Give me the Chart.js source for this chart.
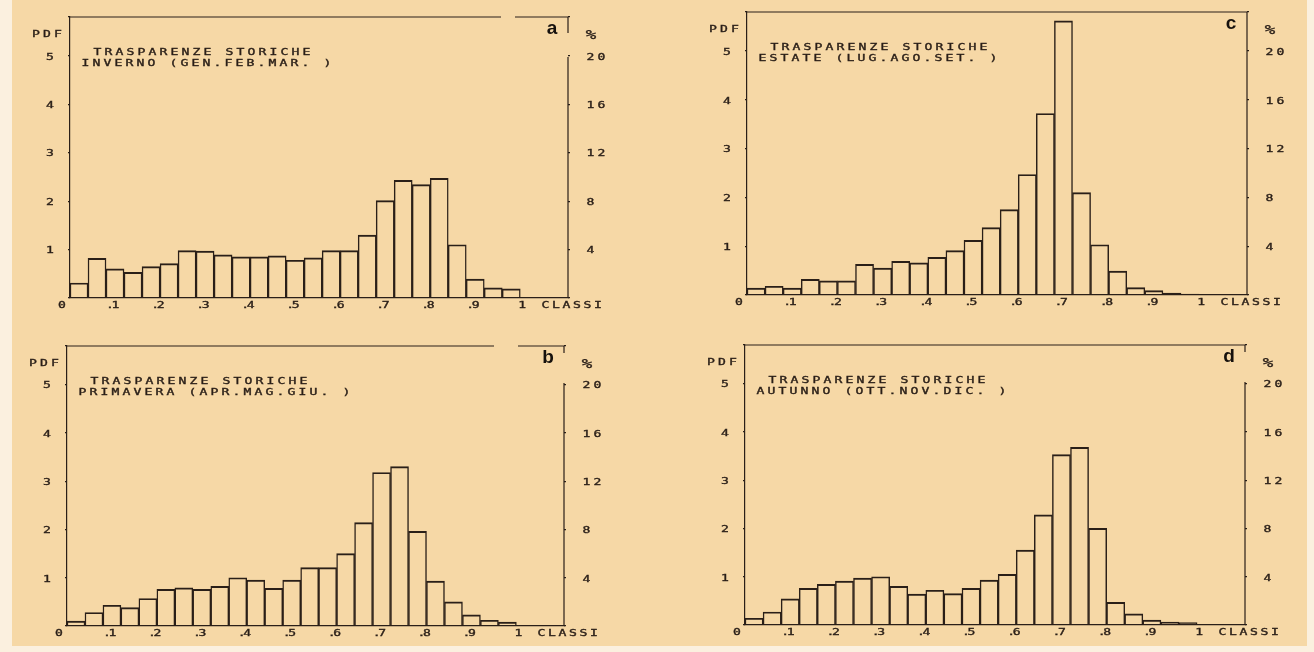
<!DOCTYPE html>
<html>
<head>
<meta charset="utf-8">
<title>Trasparenze storiche</title>
<script src="https://cdn.jsdelivr.net/npm/chart.js@4.4.1/dist/chart.umd.min.js"></script>
<style>
  html, body { margin: 0; padding: 0; }
  body { width: 1314px; height: 652px; position: relative; overflow: hidden; background: #fbf0df; }
  #paper { position: absolute; left: 12px; top: 0; width: 1295px; height: 646px; background: #f6d8a6; }
  .panel { position: absolute; }
  .panel canvas { display: block; }
</style>
</head>
<body>
<div id="paper"></div>
<div class="panel" id="panel-a"><canvas id="chart-a"></canvas></div>
<div class="panel" id="panel-b"><canvas id="chart-b"></canvas></div>
<div class="panel" id="panel-c"><canvas id="chart-c"></canvas></div>
<div class="panel" id="panel-d"><canvas id="chart-d"></canvas></div>
<script>
// Lower edges of the 25 transparency classes (width 0.04)
const classEdges = [0.00, 0.04, 0.08, 0.12, 0.16, 0.20, 0.24, 0.28, 0.32, 0.36,
                    0.40, 0.44, 0.48, 0.52, 0.56, 0.60, 0.64, 0.68, 0.72, 0.76,
                    0.80, 0.84, 0.88, 0.92, 0.96];
const classWidth = 0.04;

// Probability density per class, one array per season
const pdfInverno   = [0.31, 0.82, 0.60, 0.53, 0.65, 0.71, 0.98, 0.97, 0.89, 0.85,
                      0.85, 0.87, 0.78, 0.83, 0.98, 0.98, 1.30, 2.01, 2.43, 2.34,
                      2.47, 1.10, 0.39, 0.21, 0.19];
const pdfPrimavera = [0.10, 0.28, 0.43, 0.38, 0.57, 0.76, 0.79, 0.76, 0.82, 1.00,
                      0.95, 0.78, 0.95, 1.21, 1.21, 1.50, 2.14, 3.18, 3.30, 1.96,
                      0.93, 0.50, 0.23, 0.12, 0.08];
const pdfEstate    = [0.14, 0.18, 0.14, 0.32, 0.29, 0.29, 0.63, 0.55, 0.69, 0.66,
                      0.77, 0.91, 1.12, 1.38, 1.75, 2.47, 3.72, 5.62, 2.10, 1.03,
                      0.49, 0.15, 0.09, 0.04, 0.02];
const pdfAutunno   = [0.14, 0.27, 0.54, 0.76, 0.84, 0.91, 0.97, 1.00, 0.80, 0.64,
                      0.72, 0.65, 0.76, 0.93, 1.05, 1.55, 2.28, 3.53, 3.68, 2.00,
                      0.47, 0.23, 0.10, 0.06, 0.05];

// Axis ticks and labels
const pdfTicks = [1, 2, 3, 4, 5];
const percentTicks = [4, 8, 12, 16, 20];
const classTicks = [0, 0.1, 0.2, 0.3, 0.4, 0.5, 0.6, 0.7, 0.8, 0.9, 1];
const classTickLabels = ['0', '.1', '.2', '.3', '.4', '.5', '.6', '.7', '.8', '.9', '1'];
const titleLine = 'TRASPARENZE STORICHE';
const seasonLines = ['INVERNO (GEN.FEB.MAR. )', 'PRIMAVERA (APR.MAG.GIU. )',
                     'ESTATE (LUG.AGO.SET. )', 'AUTUNNO (OTT.NOV.DIC. )'];
const panelLetters = ['a', 'b', 'c', 'd'];
const leftAxisName = 'PDF';
const rightAxisName = '%';
const classAxisName = 'CLASSI';

const INK = '#2a1f18';
const PDF_MAX = 5.8;
const CLASS_MAX = 1.106;

// Plotter-style lettering: fixed pitch, wide glyphs, slightly heavy pen
function plotText(ctx, str, x, y, align, pitch, size) {
  const fs = size || 9;
  const gw = 7;
  const n = str.length;
  let c0;
  if (align === 'left') c0 = x + gw / 2;
  else if (align === 'right') c0 = x - gw / 2 - (n - 1) * pitch;
  else c0 = x - (n - 1) * pitch / 2;
  ctx.save();
  ctx.font = fs + 'px "DejaVu Sans Mono"';
  ctx.textAlign = 'center';
  ctx.textBaseline = 'middle';
  ctx.fillStyle = INK;
  ctx.strokeStyle = INK;
  ctx.lineWidth = 0.35;
  for (let i = 0; i < n; i++) {
    const ch = str[i];
    if (ch === ' ') continue;
    ctx.save();
    ctx.translate(c0 + i * pitch, y);
    ctx.scale(1.45, 1);
    ctx.fillText(ch, 0, 0);
    ctx.strokeText(ch, 0, 0);
    ctx.restore();
  }
  ctx.restore();
}

const plotterFrame = {
  id: 'plotterFrame',
  afterDraw(chart, args, o) {
    const ctx = chart.ctx;
    const { left: L, top: T, right: R, bottom: B } = chart.chartArea;
    const xs = chart.scales.x, ys = chart.scales.y, ys2 = chart.scales.y2;

    // top and right edges of the frame, with the pen gaps near the panel letter
    ctx.save();
    ctx.strokeStyle = INK;
    ctx.lineWidth = 1.2;
    ctx.beginPath();
    if (o.topGap) {
      ctx.moveTo(L, T); ctx.lineTo(R - o.topGap[0], T);
      ctx.moveTo(R - o.topGap[1], T); ctx.lineTo(R, T);
    } else {
      ctx.moveTo(L, T); ctx.lineTo(R, T);
    }
    if (o.rightGap) {
      ctx.moveTo(R, T); ctx.lineTo(R, T + o.rightGap[0]);
      ctx.moveTo(R, T + o.rightGap[1]); ctx.lineTo(R, B);
    } else {
      ctx.moveTo(R, T); ctx.lineTo(R, B);
    }
    ctx.stroke();
    ctx.restore();

    // titles
    plotText(ctx, titleLine, L + 24, T + 35.5, 'left', 11);
    plotText(ctx, o.season, L + 12, T + 47, 'left', 11);

    // axis names
    plotText(ctx, leftAxisName, L - 23, T + 18, 'center', 11);
    plotText(ctx, rightAxisName, R + 23, T + 19, 'center', 11, 12);
    plotText(ctx, classAxisName, R - 26, B + 8, 'left', 10.5);

    // left PDF labels
    pdfTicks.forEach(v => {
      plotText(ctx, String(v), L - 20, ys.getPixelForValue(v) + 1.5, 'center', 11);
    });
    // right percentage labels
    percentTicks.forEach(v => {
      plotText(ctx, String(v), R + 19, ys2.getPixelForValue(v) + 1.5, 'left', 11);
    });
    // class labels
    classTicks.forEach((v, i) => {
      const px = xs.getPixelForValue(v);
      const lab = classTickLabels[i];
      if (lab.startsWith('.')) {
        plotText(ctx, '.', px - 5, B + 8, 'center', 6);
        plotText(ctx, lab.slice(1), px + 0.5, B + 8, 'center', 6);
      } else if (lab === '0') {
        plotText(ctx, lab, px - 8, B + 8, 'center', 6);
      } else {
        plotText(ctx, lab, px + 2, B + 8, 'center', 6);
      }
    });

    // panel letter
    ctx.save();
    ctx.font = 'bold 19px "Liberation Sans", Arial, sans-serif';
    ctx.fillStyle = '#16110d';
    ctx.textAlign = 'center';
    ctx.textBaseline = 'alphabetic';
    ctx.fillText(o.letter, R - 16, T + 16.5);
    ctx.restore();
  }
};

const panels = [
  { id: 'a', box: { l: 70, t: 17, w: 498, h: 281 }, values: pdfInverno, season: seasonLines[0], letter: panelLetters[0], topGap: [67, 53], rightGap: [16, 40] },
  { id: 'b', box: { l: 67, t: 346, w: 497, h: 280 }, values: pdfPrimavera, season: seasonLines[1], letter: panelLetters[1], topGap: [70, 46], rightGap: [7, 37] },
  { id: 'c', box: { l: 747, t: 12, w: 500, h: 283 }, values: pdfEstate, season: seasonLines[2], letter: panelLetters[2], topGap: null, rightGap: null },
  { id: 'd', box: { l: 745, t: 345, w: 500, h: 280 }, values: pdfAutunno, season: seasonLines[3], letter: panelLetters[3], topGap: null, rightGap: [7, 37] }
];

const MARGIN_X = 80, MARGIN_TOP = 40, MARGIN_BOTTOM = 30;

panels.forEach(p => {
  const holder = document.getElementById('panel-' + p.id);
  const canvas = document.getElementById('chart-' + p.id);
  const cw = p.box.w + 2 * MARGIN_X;
  const ch = p.box.h + MARGIN_TOP + MARGIN_BOTTOM;
  holder.style.left = (p.box.l - MARGIN_X) + 'px';
  holder.style.top = (p.box.t - MARGIN_TOP) + 'px';
  canvas.width = cw; canvas.height = ch;
  canvas.style.width = cw + 'px'; canvas.style.height = ch + 'px';

  const points = classEdges.map((e, i) => ({ x: e + classWidth / 2, y: p.values[i] }));

  new Chart(canvas, {
    type: 'bar',
    data: {
      datasets: [{
        data: points,
        backgroundColor: 'rgba(0,0,0,0)',
        borderColor: INK,
        borderWidth: { top: 1.3, left: 0.8, right: 0.8, bottom: 0 },
        borderSkipped: 'start',
        categoryPercentage: 1,
        barPercentage: 1
      }]
    },
    options: {
      responsive: false,
      animation: false,
      events: [],
      layout: { padding: { top: MARGIN_TOP, left: 0, right: 0, bottom: 0 } },
      plugins: {
        legend: { display: false },
        tooltip: { enabled: false },
        plotterFrame: { season: p.season, letter: p.letter, topGap: p.topGap, rightGap: p.rightGap }
      },
      scales: {
        x: {
          type: 'linear', min: 0, max: CLASS_MAX, offset: false,
          grid: { display: false },
          border: { display: true, color: INK, width: 1.2 },
          ticks: { display: false, stepSize: 0.1 },
          afterFit(s) { s.height = MARGIN_BOTTOM; }
        },
        y: {
          position: 'left', min: 0, max: PDF_MAX,
          grid: { display: true, drawOnChartArea: false, drawTicks: true, tickLength: 2, color: INK, lineWidth: 1.2 },
          border: { display: true, color: INK, width: 1.2 },
          ticks: { display: false, stepSize: 1 },
          afterFit(s) { s.width = MARGIN_X; }
        },
        y2: {
          position: 'right', min: 0, max: PDF_MAX * 4,
          grid: { display: true, drawOnChartArea: false, drawTicks: true, tickLength: 2, color: INK, lineWidth: 1.2 },
          border: { display: false },
          ticks: { display: false, stepSize: 4 },
          afterFit(s) { s.width = MARGIN_X; }
        }
      }
    },
    plugins: [plotterFrame]
  });
});
</script>
</body>
</html>
